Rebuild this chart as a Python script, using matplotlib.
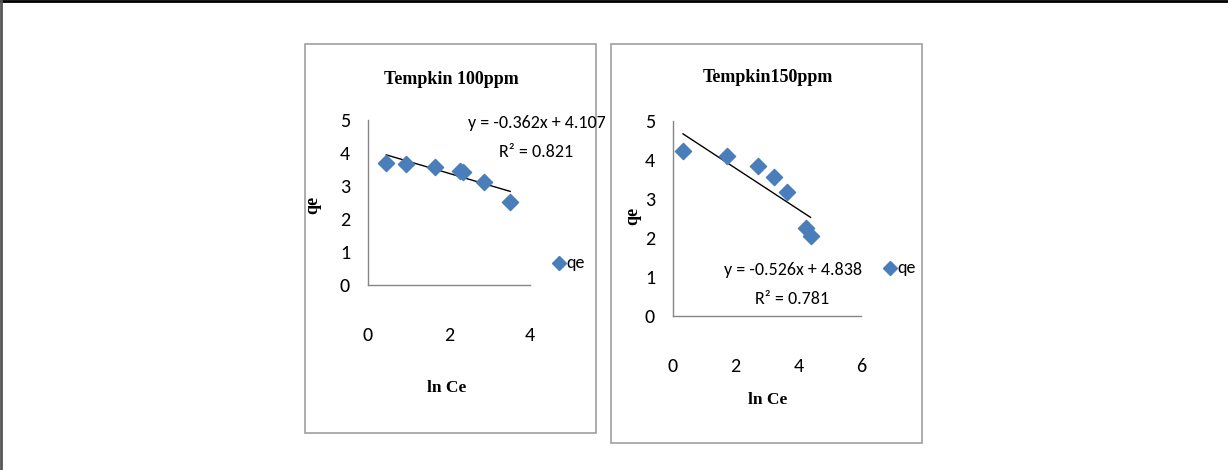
import matplotlib
matplotlib.use("Agg")
import matplotlib.pyplot as plt
from matplotlib.patches import Rectangle
from matplotlib.lines import Line2D
import numpy as np

# Tempkin 100 ppm
ln_ce_100 = [0.45, 0.94, 1.65, 2.26, 2.35, 2.87, 3.51]
qe_100 = [3.71, 3.67, 3.57, 3.46, 3.41, 3.11, 2.52]
slope_100, icpt_100, r2_100 = -0.362, 4.107, 0.821

# Tempkin 150 ppm
ln_ce_150 = [0.32, 1.73, 2.71, 3.23, 3.65, 4.26, 4.39]
qe_150 = [4.23, 4.11, 3.85, 3.56, 3.19, 2.26, 2.06]
slope_150, icpt_150, r2_150 = -0.526, 4.838, 0.781

W, H = 1228, 470
BLUE = "#4a7ebb"
GRID = "#868686"
SANS = ["Carlito", "DejaVu Sans"]
SERIF = ["Liberation Serif", "DejaVu Serif"]

fig = plt.figure(figsize=(W / 100, H / 100), dpi=100)


def px(x, y):
    return x / W, 1 - y / H


def box(x0, y0, x1, y1):
    fig.patches.append(Rectangle(px(x0, y1), (x1 - x0) / W, (y1 - y0) / H,
                                 transform=fig.transFigure, fill=False,
                                 ec="#a0a0a0", lw=1.2))


def panel(x0, yb, x1, yt, xmax, xs, ys, slope, icpt, r2, title, tpos, eqpos, ylpos, xlpos, legpos):
    ax = fig.add_axes([x0 / W, 1 - yb / H, (x1 - x0) / W, (yb - yt) / H])
    ax.set_xlim(0, xmax)
    ax.set_ylim(0, 5)
    ax.set_xticks(np.arange(0, xmax + 1, 2))
    ax.set_yticks(range(6))
    for s in ("top", "right"):
        ax.spines[s].set_visible(False)
    for s in ("left", "bottom"):
        ax.spines[s].set_color(GRID)
        ax.spines[s].set_linewidth(1.0)
    ax.tick_params(length=0, labelsize=14.5)
    ax.tick_params(axis="x", pad=30)
    ax.tick_params(axis="y", pad=13)
    for lab in ax.get_xticklabels() + ax.get_yticklabels():
        lab.set_family(SANS)
    ax.scatter(xs, ys, marker="D", s=68, color=BLUE, zorder=3, clip_on=False)
    xf = np.array([min(xs), max(xs)])
    ax.plot(xf, slope * xf + icpt, color="black", lw=1.0, zorder=2)
    fig.text(*px(*tpos), title, ha="center", va="center", family=SERIF,
             weight="bold", fontsize=13)
    eq = f"y = {slope:.3f}x + {icpt:.3f}"
    fig.text(*px(*eqpos), eq, ha="center", va="center", family=SANS, fontsize=13)
    fig.text(*px(eqpos[0] - 1, eqpos[1] + 29), f"R\u00b2 = {r2:.3f}", ha="center",
             va="center", family=SANS, fontsize=13)
    fig.text(*px(*ylpos), "qe", ha="center", va="center", family=SERIF,
             weight="bold", fontsize=13, rotation=90)
    fig.text(*px(*xlpos), "ln Ce", ha="center", va="center", family=SERIF,
             weight="bold", fontsize=12.5)
    fig.lines.append(Line2D([legpos[0] / W], [1 - legpos[1] / H], marker="D",
                            ms=7.5, color=BLUE, ls="none", transform=fig.transFigure))
    fig.text(*px(legpos[0] + 7, legpos[1]), "qe", ha="left", va="center",
             family=SANS, fontsize=13)
    return ax


box(305, 44, 596, 433)
box(611, 44, 922, 443)

panel(368, 285, 530, 120, 4, ln_ce_100, qe_100, slope_100, icpt_100, r2_100,
      "Tempkin 100ppm", (451, 80), (537, 123), (313, 205), (447, 388), (559, 263))
panel(673, 316, 861, 121, 6, ln_ce_150, qe_150, slope_150, icpt_150, r2_150,
      "Tempkin150ppm", (768, 78), (793, 270), (633, 216), (768, 400), (890, 268))

# page border fragments
fig.lines.append(Line2D([0, 1], [1 - 1 / H, 1 - 1 / H], color="black", lw=2,
                        transform=fig.transFigure))
fig.lines.append(Line2D([1 / W, 1 / W], [0, 1], color="#555555", lw=2,
                        transform=fig.transFigure))

fig.savefig("out.png", dpi=100)
